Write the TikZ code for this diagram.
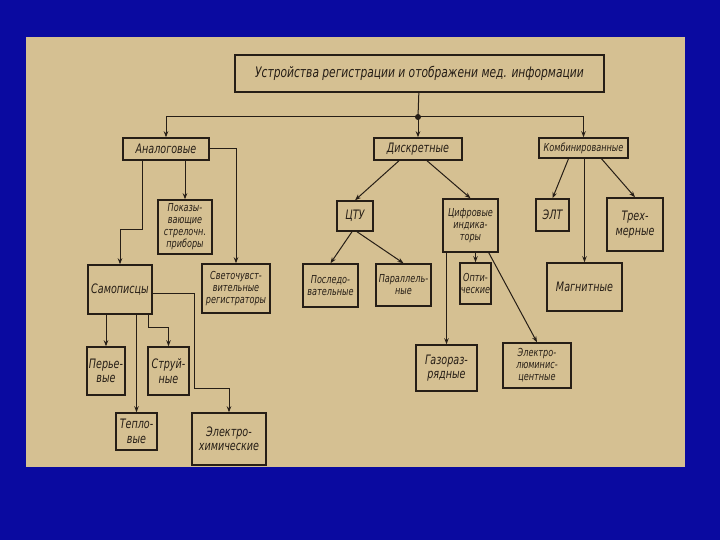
\documentclass[tikz,border=0pt]{standalone}
\usepackage{fontspec}
\setmainfont{DejaVu Sans Condensed}[ItalicFont={DejaVu Sans Condensed Oblique},FakeStretch=0.82]
\usepackage{xcolor}
\usetikzlibrary{arrows.meta,positioning}

\definecolor{slideblue}{RGB}{10,10,160}
\definecolor{paper}{RGB}{213,192,146}
\definecolor{ink}{RGB}{38,30,22}

\begin{document}
\begin{tikzpicture}[x=1pt,y=-1pt,
    box/.style={draw=ink,line width=1.5pt,inner sep=1pt,align=center,text=ink,
      font=\itshape\fontsize{11}{12}\selectfont},
    bigtext/.style={font=\itshape\fontsize{13}{14.5}\selectfont},
    link/.style={draw=ink,line width=1pt},
    arr/.style={link,-{Stealth[length=6pt,width=4.5pt]}}]
  \fill[slideblue] (0,0) rectangle (720,540);
  \fill[paper] (26,37) rectangle (685,467);

  \node[box,minimum width=369,minimum height=37,font=\itshape\fontsize{14.5}{16}\selectfont] (top) at (419.5,73.5)
    {Устройства регистрации и отображени мед. информации};

  % Level one
  \node[box,bigtext,minimum width=86,minimum height=22] (analog) at (166,149) {Аналоговые};
  \node[box,bigtext,minimum width=88,minimum height=22] (discrete) at (418,149) {Дискретные};
  \node[box,minimum width=89,minimum height=20] (combined) at (583.5,148) {Комбинированные};

  % Analog devices
  \node[box,minimum width=54,minimum height=54] (pokaz) at (185,227) {Показы-\\вающие\\стрелочн.\\приборы};
  \node[box,bigtext,minimum width=64,minimum height=49] (samop) at (120,289.5) {Самописцы};
  \node[box,minimum width=68,minimum height=49] (svet) at (236,288.5) {Светочувст-\\вительные\\регистраторы};
  \node[box,bigtext,minimum width=38,minimum height=48] (pero) at (106,371) {Перье-\\вые};
  \node[box,bigtext,minimum width=41,minimum height=48] (strui) at (168.5,371) {Струй-\\ные};
  \node[box,bigtext,minimum width=41,minimum height=37] (teplo) at (136.5,431.5) {Тепло-\\вые};
  \node[box,bigtext,minimum width=74,minimum height=52] (elchem) at (229,439) {Электро-\\химические};

  % Discrete devices
  \node[box,bigtext,minimum width=36,minimum height=30] (ctu) at (355,216) {ЦТУ};
  \node[box,minimum width=55,minimum height=53] (cifr) at (470.5,225.5) {Цифровые\\индика-\\торы};
  \node[box,minimum width=55,minimum height=43] (posl) at (330.5,285.5) {Последо-\\вательные};
  \node[box,minimum width=55,minimum height=42] (paral) at (403.5,285) {Параллель-\\ные};
  \node[box,minimum width=31,minimum height=41] (opt) at (475.5,283.5) {Опти-\\ческие};
  \node[box,bigtext,minimum width=61,minimum height=46] (gaz) at (446.5,368) {Газораз-\\рядные};
  \node[box,minimum width=68,minimum height=45] (elum) at (537,365.5) {Электро-\\люминис-\\центные};

  % Combined devices
  \node[box,bigtext,minimum width=33,minimum height=32] (elt) at (552.5,215) {ЭЛТ};
  \node[box,bigtext,minimum width=56,minimum height=53] (trex) at (635,224.5) {Трех-\\мерные};
  \node[box,bigtext,minimum width=75,minimum height=48] (magn) at (584.5,287) {Магнитные};

  % Main branch
  \coordinate (jn) at (418,117);
  \draw[link] (top) -- (jn);
  \fill[ink] (jn) circle (3);
  \draw[arr] (jn) -| (analog.north);
  \draw[arr] (jn) -- (discrete.north);
  \draw[arr] (jn) -| (combined.north);

  % Analog branch
  \draw[arr] ([xshift=-24pt]analog.south) -- ++(0,69) -| (samop.north);
  \draw[arr] (pokaz.north |- analog.south) -- (pokaz.north);
  \draw[arr] (analog.east) -| (svet.north);
  \draw[arr] (pero.north |- samop.south) -- (pero.north);
  \draw[arr] (teplo.north |- samop.south) -- (teplo.north);
  \draw[arr] ([xshift=28pt]samop.south) -- ++(0,13) -| (strui.north);
  \draw[arr] ([yshift=-4pt]samop.east) -- ++(42,0) -- ++(0,95) -| (elchem.north);

  % Discrete branch
  \draw[arr] ([xshift=-19pt]discrete.south) -- (ctu.north);
  \draw[arr] ([xshift=9pt]discrete.south) -- (cifr.north);
  \draw[arr] ([xshift=-3pt]ctu.south) -- (posl.north);
  \draw[arr] ([xshift=2pt]ctu.south) -- (paral.north);
  \draw[arr] (opt.north |- cifr.south) -- (opt.north);
  \draw[arr] (gaz.north |- cifr.south) -- (gaz.north);
  \draw[arr] ([xshift=-10pt]cifr.south east) -- (elum.north);

  % Combined branch
  \draw[arr] ([xshift=-15pt]combined.south) -- (elt.north);
  \draw[arr] (magn.north |- combined.south) -- (magn.north);
  \draw[arr] ([xshift=18pt]combined.south) -- (trex.north);
\end{tikzpicture}
\end{document}
